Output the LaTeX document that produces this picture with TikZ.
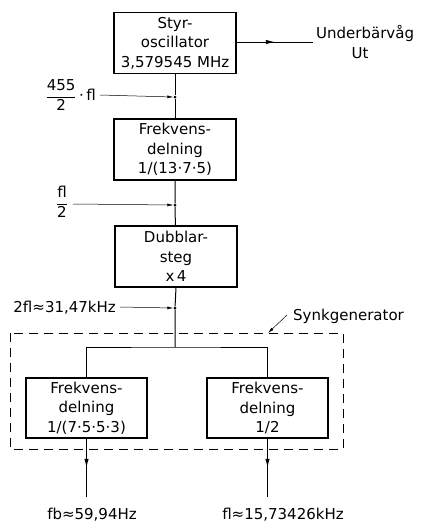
\documentclass[tikz,border=0pt]{standalone}
\usepackage{fontspec}
\setmainfont{DejaVu Sans}
\usetikzlibrary{arrows.meta,decorations.markings}
\tikzset{
  blk/.style={draw,line width=1.1pt,minimum width=122pt,minimum height=61pt,align=center,font=\fontsize{15}{19.5}\selectfont,inner sep=1pt},
  lbl/.style={font=\fontsize{15}{18}\selectfont,inner sep=0pt},
  wire/.style={line width=1pt},
  feed/.style={line width=0.5pt,-{Latex[length=6pt,width=3pt]}},
  midarrow/.style={decoration={markings,mark=at position 0.5 with {\arrow{Latex[length=9pt,width=4.5pt]}}},postaction={decorate}},
  dot/.style={circle,fill,inner sep=0pt,minimum size=3pt}
}
\begin{document}
\begin{tikzpicture}[x=1pt,y=-1pt]
\useasboundingbox (0,0) rectangle (423,525);
\node[blk] (osc) at (175,43) {Styr-\\oscillator\\3,579545 MHz};
\node[blk] (div1) at (175,149.5) {Frekvens-\\delning\\1/(13·7·5)};
\node[blk] (dbl) at (176,256.5) {Dubblar-\\steg\\x\,4};
\node[blk,minimum width=121pt,minimum height=60pt] (divL) at (86.5,408) {Frekvens-\\delning\\1/(7·5·5·3)};
\node[blk,minimum width=121pt,minimum height=60pt] (divR) at (267.5,408) {Frekvens-\\delning\\1/2};
% dashed box
\draw[line width=1pt,dash pattern=on 9pt off 6pt] (10,333) rectangle (343,449);
% output right
\coordinate (utend) at (313,42);
\draw[wire,midarrow] (osc.east |- utend) -- (utend);
\node[lbl,anchor=west] (ub) at (316,33) {Underbärvåg};
\node[lbl] (ut) at (360,53) {Ut};
% vertical chain
\node[dot] (j1) at (175,97) {};
\node[dot] (j2) at (175,205) {};
\node[dot] (j3) at (175,308) {};
\coordinate (split) at (175,347);
\draw[wire] (osc) -- (j1) -- (div1);
\draw[wire] (div1) -- (j2) -- (dbl);
\draw[wire] (dbl.south) -- (j3) -- (split);
\draw[wire] (divL.north) |- (split) -| (divR.north);
% feed labels
\node[lbl,anchor=east] (f1) at (96,95) {$\displaystyle\frac{\mbox{455}}{\mbox{2}}$\,·\,fl};
\draw[feed] (100,95) coordinate (f1s) (f1s) -- (j1.west);
\node[lbl] (f2) at (62,202) {$\displaystyle\frac{\mbox{fl}}{\mbox{2}}$};
\draw[feed] (73,204) coordinate (f2s) (f2s) -- (j2.west);
\node[lbl,anchor=east] (f3) at (116,308) {2fl≈31,47kHz};
\draw[feed] (120,307) coordinate (f3s) (f3s) -- (j3.west);
% Synkgenerator
\node[lbl,anchor=west] (sg) at (293,316) {Synkgenerator};
\coordinate (sgpt) at (268,333);
\draw[feed] (287,315) coordinate (sgs) (sgs) -- (sgpt);
% outputs
\coordinate (oL) at (86.5,497);
\coordinate (oR) at (267.5,497);
\draw[wire,midarrow] (divL.south) -- (oL);
\draw[wire,midarrow] (divR.south) -- (oR);
\node[lbl] (fb) at (92,515) {fb≈59,94Hz};
\node[lbl] (fl) at (283,515) {fl≈15,73426kHz};
\end{tikzpicture}
\end{document}
